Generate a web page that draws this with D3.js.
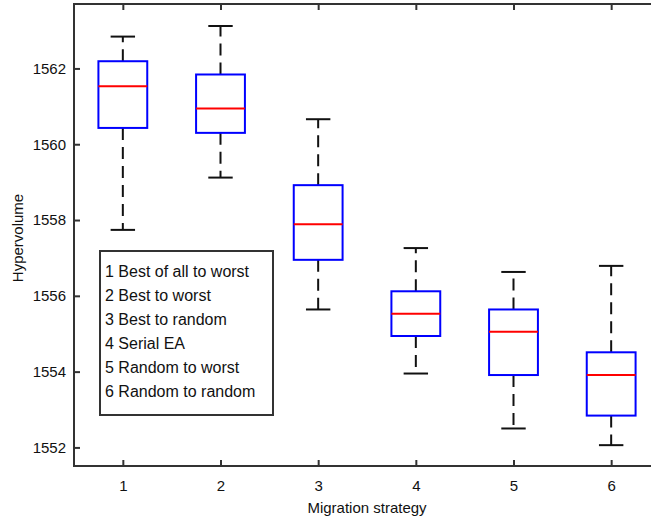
<!DOCTYPE html>
<html>
<head>
<meta charset="utf-8">
<script src="https://cdn.jsdelivr.net/npm/d3@7"></script>
<style>
  body { margin: 0; background: #fff; }
  svg { display: block; font-family: "Liberation Sans", Arial, Helvetica, sans-serif; }
</style>
</head>
<body>
<div id="container"></div>
<script>
const WIDTH = 651;
const HEIGHT = 520;

// migration strategy index on the x axis
const strategies = [1, 2, 3, 4, 5, 6];
// box statistics
const whiskerHigh = [1562.84, 1563.12, 1560.66, 1557.26, 1556.63, 1556.79];
const upperQuartile = [1562.19, 1561.84, 1558.92, 1556.12, 1555.64, 1554.51];
const medians = [1561.53, 1560.94, 1557.89, 1555.53, 1555.05, 1553.91];
const lowerQuartile = [1560.43, 1560.3, 1556.95, 1554.94, 1553.91, 1552.84];
const whiskerLow = [1557.74, 1559.12, 1555.64, 1553.95, 1552.5, 1552.06];

const yTicks = [1552, 1554, 1556, 1558, 1560, 1562];
const legendLabels = [
  "1 Best of all to worst",
  "2 Best to worst",
  "3 Best to random",
  "4 Serial EA",
  "5 Random to worst",
  "6 Random to random",
];

const boxes = strategies.map((s, i) => ({
  x: s,
  hi: whiskerHigh[i],
  q3: upperQuartile[i],
  med: medians[i],
  q1: lowerQuartile[i],
  lo: whiskerLow[i],
}));

const PLOT_LEFT = 74, PLOT_TOP = 4, PLOT_BOTTOM = 466, PLOT_RIGHT = 660;

const x = d3.scaleLinear().domain([0.5, 6.5]).range([PLOT_LEFT, PLOT_RIGHT]);
const y = d3.scaleLinear().domain([1551.51, 1563.7]).range([PLOT_BOTTOM, PLOT_TOP]);

const svg = d3
  .select("#container")
  .append("svg")
  .attr("width", WIDTH)
  .attr("height", HEIGHT);

const AXIS_COLOR = "#333";

// frame
svg
  .append("rect")
  .attr("x", PLOT_LEFT)
  .attr("y", PLOT_TOP)
  .attr("width", PLOT_RIGHT - PLOT_LEFT)
  .attr("height", PLOT_BOTTOM - PLOT_TOP)
  .attr("fill", "none")
  .attr("stroke", AXIS_COLOR)
  .attr("stroke-width", 2);

const yAxis = d3.axisLeft(y).tickValues(yTicks).tickSize(-6).tickPadding(8).tickFormat(d3.format("d"));
const xAxis = d3.axisBottom(x).tickValues(strategies).tickSize(-6).tickPadding(14).tickFormat(d3.format("d"));
const xTop = d3.axisTop(x).tickValues(strategies).tickSize(-6).tickFormat("");

function styleAxis(g) {
  g.select(".domain").remove();
  g.selectAll(".tick line").attr("stroke", AXIS_COLOR).attr("stroke-width", 2);
  g.selectAll(".tick text").attr("fill", "#111").style("font-size", "15px");
}

svg.append("g").attr("transform", `translate(${PLOT_LEFT},0)`).call(yAxis).call(styleAxis);
svg.append("g").attr("transform", `translate(0,${PLOT_BOTTOM})`).call(xAxis).call(styleAxis);
svg.append("g").attr("transform", `translate(0,${PLOT_TOP})`).call(xTop).call(styleAxis);

const boxW = x(1.25) - x(1);
const capW = x(1.125) - x(1);

const g = svg.selectAll("g.box").data(boxes).enter().append("g").attr("class", "box");

// whiskers
g.append("line")
  .attr("x1", (d) => x(d.x))
  .attr("x2", (d) => x(d.x))
  .attr("y1", (d) => y(d.q3))
  .attr("y2", (d) => y(d.hi))
  .attr("stroke", "#111")
  .attr("stroke-width", 2)
  .attr("stroke-dasharray", "12,7");
g.append("line")
  .attr("x1", (d) => x(d.x))
  .attr("x2", (d) => x(d.x))
  .attr("y1", (d) => y(d.q1))
  .attr("y2", (d) => y(d.lo))
  .attr("stroke", "#111")
  .attr("stroke-width", 2)
  .attr("stroke-dasharray", "12,7");

// caps
["hi", "lo"].forEach((k) => {
  g.append("line")
    .attr("x1", (d) => x(d.x) - capW)
    .attr("x2", (d) => x(d.x) + capW)
    .attr("y1", (d) => y(d[k]))
    .attr("y2", (d) => y(d[k]))
    .attr("stroke", "#111")
    .attr("stroke-width", 2);
});

// boxes
g.append("rect")
  .attr("x", (d) => x(d.x) - boxW)
  .attr("y", (d) => y(d.q3))
  .attr("width", boxW * 2)
  .attr("height", (d) => y(d.q1) - y(d.q3))
  .attr("fill", "#fff")
  .attr("stroke", "#0000ff")
  .attr("stroke-width", 2);

// medians
g.append("line")
  .attr("x1", (d) => x(d.x) - boxW)
  .attr("x2", (d) => x(d.x) + boxW)
  .attr("y1", (d) => y(d.med))
  .attr("y2", (d) => y(d.med))
  .attr("stroke", "#ff0000")
  .attr("stroke-width", 2);

// legend box
const legend = svg.append("g").attr("transform", "translate(100,251)");
legend
  .append("rect")
  .attr("width", 173)
  .attr("height", 164)
  .attr("fill", "#fff")
  .attr("stroke", AXIS_COLOR)
  .attr("stroke-width", 2);
legend
  .selectAll("text")
  .data(legendLabels)
  .enter()
  .append("text")
  .attr("x", 5)
  .attr("y", (d, i) => 26 + i * 24)
  .attr("fill", "#111")
  .style("font-size", "16px")
  .text((d) => d);

// axis labels
svg
  .append("text")
  .attr("x", (PLOT_LEFT + PLOT_RIGHT) / 2)
  .attr("y", 513)
  .attr("text-anchor", "middle")
  .attr("fill", "#111")
  .style("font-size", "15px")
  .text("Migration strategy");

svg
  .append("text")
  .attr("transform", "translate(23,238) rotate(-90)")
  .attr("text-anchor", "middle")
  .attr("fill", "#111")
  .style("font-size", "15px")
  .text("Hypervolume");
</script>
</body>
</html>
